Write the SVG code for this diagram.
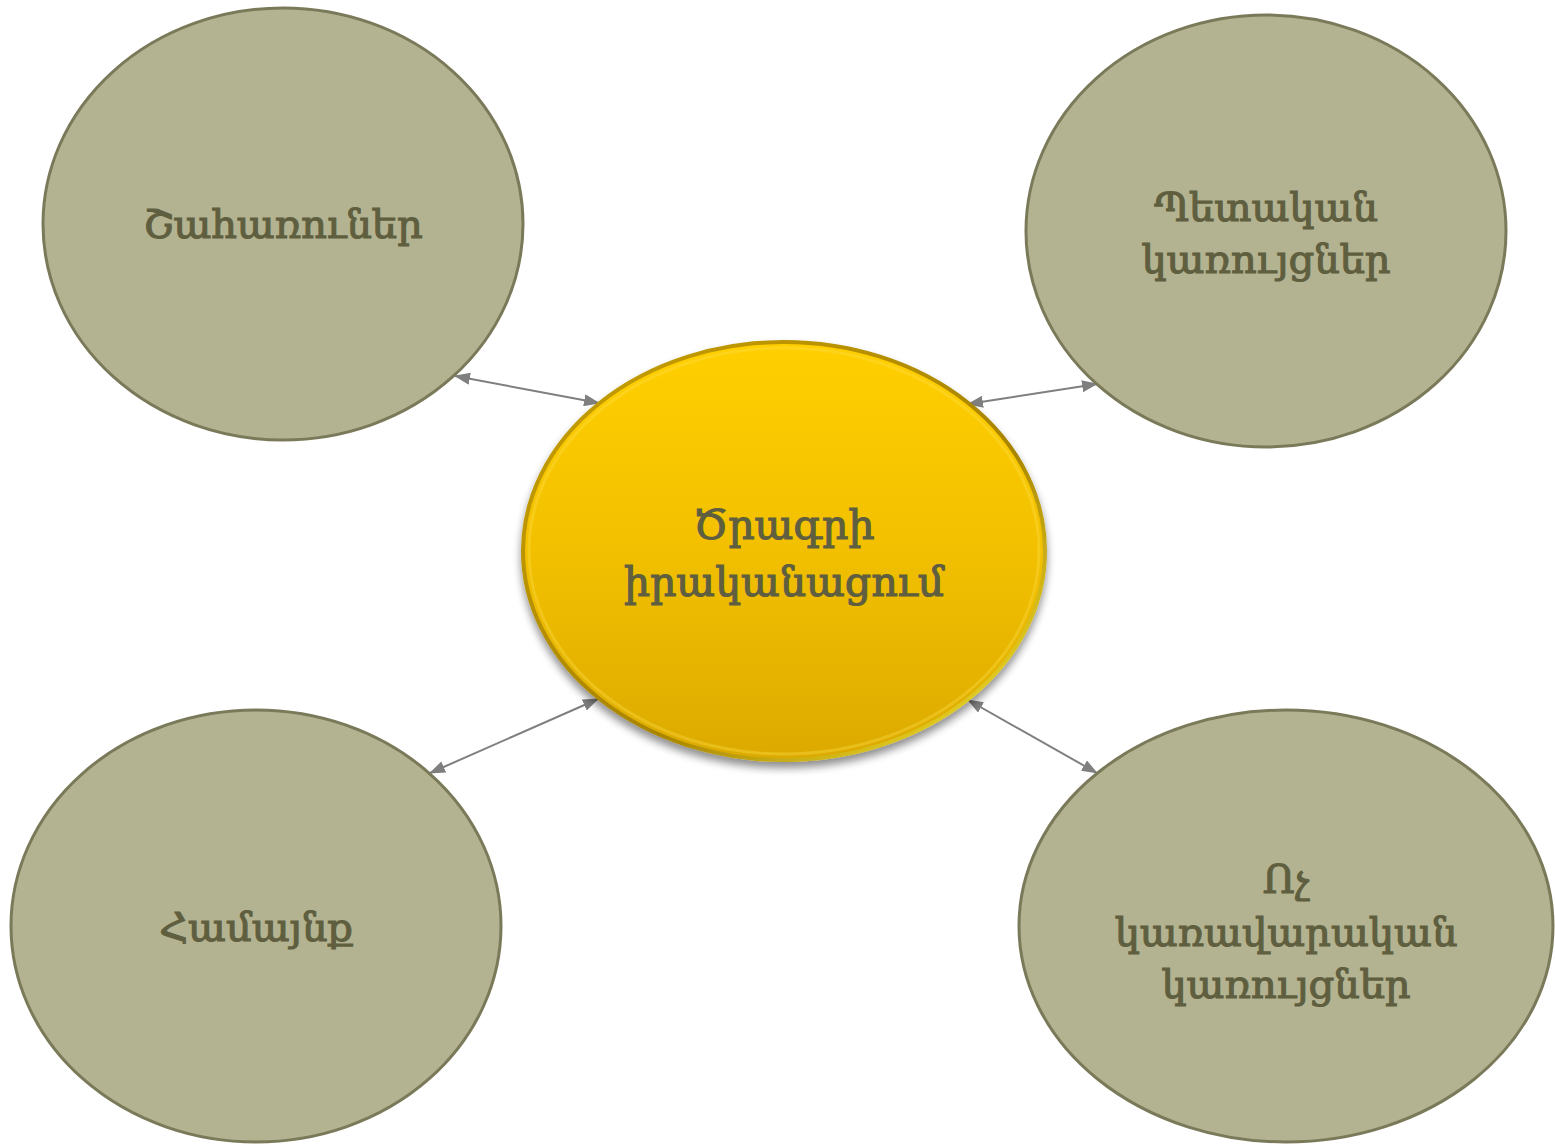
<svg xmlns="http://www.w3.org/2000/svg" width="1555" height="1145" viewBox="0 0 1555 1145">
<style>
.outer{fill:#b3b391;stroke:#7a7a5a;stroke-width:3}
.lbl{font-family:"DejaVu Serif","Noto Serif","Liberation Serif",serif;font-size:40px;fill:#5f5f40;stroke:#5f5f40;stroke-width:1.2;text-anchor:middle}
.big{font-size:41px}
.conn{stroke:#7f7f7f;stroke-width:2;fill:none;marker-start:url(#ah);marker-end:url(#ah)}
</style>
<defs>
<marker id="ah" refX="15" refY="6" markerWidth="16" markerHeight="12" orient="auto-start-reverse" markerUnits="userSpaceOnUse">
<path d="M0,0 L16,6 L0,12 z" fill="#7f7f7f"/>
</marker>
<linearGradient id="gold" x1="0" y1="0" x2="0" y2="1">
<stop offset="0" stop-color="#ffcf00"/>
<stop offset="0.5" stop-color="#f2c000"/>
<stop offset="1" stop-color="#dcaa00"/>
</linearGradient>
<linearGradient id="rim" x1="0" y1="0" x2="1" y2="1">
<stop offset="0" stop-color="#c9a000"/>
<stop offset="0.6" stop-color="#a88400"/>
<stop offset="1" stop-color="#ffee33"/>
</linearGradient>
<filter id="sh" x="-10%" y="-10%" width="120%" height="125%">
<feGaussianBlur in="SourceAlpha" stdDeviation="4"/>
<feOffset dx="0" dy="6" result="b"/>
<feComponentTransfer><feFuncA type="linear" slope="0.45"/></feComponentTransfer>
<feMerge><feMergeNode/><feMergeNode in="SourceGraphic"/></feMerge>
</filter>
</defs>
<g id="connectors">
<line class="conn" x1="455" y1="376" x2="599" y2="403"/>
<line class="conn" x1="968" y1="404" x2="1097" y2="384"/>
<line class="conn" x1="430" y1="773" x2="598" y2="699"/>
<line class="conn" x1="968" y1="700" x2="1097" y2="773"/>
</g>
<g id="node-center">
<ellipse cx="784" cy="551" rx="261" ry="209" fill="url(#gold)" stroke="url(#rim)" stroke-width="4" filter="url(#sh)"/>
<ellipse cx="784" cy="551" rx="255" ry="203" fill="none" stroke="#ffe04a" stroke-opacity="0.35" stroke-width="3"/>
<text class="lbl big" x="784" y="539">Ծրագրի</text>
<text class="lbl big" x="784" y="596">իրականացում</text>
</g>
<g id="node-stakeholders">
<ellipse class="outer" cx="283" cy="224" rx="240" ry="216"/>
<text class="lbl" x="283" y="238">Շահառուներ</text>
</g>
<g id="node-state">
<ellipse class="outer" cx="1266" cy="231" rx="240" ry="216"/>
<text class="lbl" x="1266" y="221">Պետական</text>
<text class="lbl" x="1266" y="273">կառույցներ</text>
</g>
<g id="node-community">
<ellipse class="outer" cx="256" cy="926" rx="245" ry="216"/>
<text class="lbl" x="256" y="941">Համայնք</text>
</g>
<g id="node-ngo">
<ellipse class="outer" cx="1286" cy="926" rx="267" ry="216"/>
<text class="lbl" x="1286" y="893">Ոչ</text>
<text class="lbl" x="1286" y="946">կառավարական</text>
<text class="lbl" x="1286" y="998">կառույցներ</text>
</g>
</svg>
